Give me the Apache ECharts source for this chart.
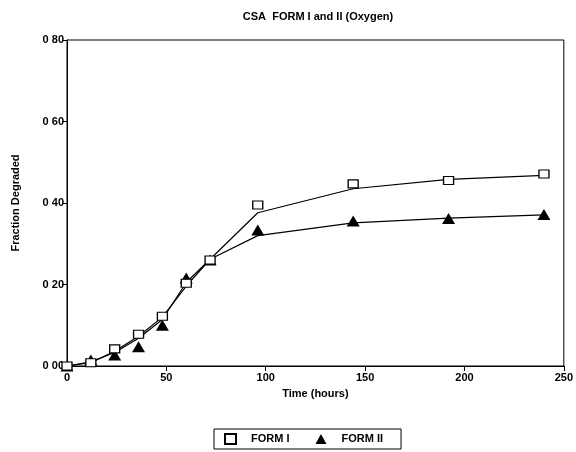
<!DOCTYPE html>
<html><head><meta charset="utf-8">
<script src="https://cdn.jsdelivr.net/npm/echarts@6/dist/echarts.min.js"></script>
<style>html,body{margin:0;padding:0;background:#fff}#c{width:576px;height:452px}</style>
</head><body><div id="c"></div>
<script>
var timeHours = [0, 12, 24, 36, 48, 60, 72, 96, 144, 192, 240];
var formI = [0.000, 0.008, 0.042, 0.078, 0.122, 0.203, 0.260, 0.395, 0.447, 0.455, 0.471];
var formII = [0.000, 0.015, 0.027, 0.047, 0.100, 0.216, 0.260, 0.334, 0.356, 0.362, 0.372];
var fitI = [0.000, 0.008, 0.036, 0.073, 0.120, 0.196, 0.262, 0.376, 0.435, 0.458, 0.468];
var fitII = [0.000, 0.010, 0.033, 0.068, 0.114, 0.205, 0.262, 0.320, 0.351, 0.363, 0.371];

function pairs(xs, ys){ return xs.map(function(x,i){ return [x, ys[i]]; }); }
var font = 'Liberation Sans, Arial, sans-serif';
var ts = {fontSize: 11, color: '#000', fontFamily: font, fontWeight: 'bold'};
var chart = echarts.init(document.getElementById('c'), null, {renderer:'canvas'});
chart.setOption({
  animation: false,
  backgroundColor: '#fff',
  textStyle: {fontFamily: font, color: '#000'},
  title: {text: 'CSA  FORM I and II (Oxygen)', left: 313, textAlign: 'center', top: 6,
    textStyle: {fontSize: 11, fontWeight: 'bold', color: '#000', fontFamily: font}},
  grid: {left: 67, right: 12, top: 40, bottom: 86, show: true, borderColor: '#000', borderWidth: 1},
  legend: {
    bottom: 3, left: 214, orient: 'horizontal',
    data: [{name: 'FORM I'}, {name: 'FORM II'}],
    borderColor: '#000', borderWidth: 1, borderRadius: 0,
    padding: [4, 18, 4, 10], itemGap: 26, itemWidth: 11, itemHeight: 10,
    textStyle: Object.assign({padding: [0, 0, 0, 10]}, ts)
  },
  xAxis: {
    type: 'value', min: 0, max: 250, interval: 50,
    name: 'Time (hours)', nameLocation: 'middle', nameGap: 22,
    nameTextStyle: ts,
    axisLine: {lineStyle: {color: '#000'}},
    axisTick: {show: true, inside: false, length: 5, lineStyle: {color: '#000'}},
    axisLabel: Object.assign({margin: 6}, ts),
    splitLine: {show: false}
  },
  yAxis: {
    type: 'value', min: 0, max: 0.8, interval: 0.2,
    name: 'Fraction Degraded', nameLocation: 'middle', nameGap: 46,
    nameTextStyle: ts,
    axisLine: {show: true, lineStyle: {color: '#000'}},
    axisTick: {show: true, length: 5, lineStyle: {color: '#000'}},
    axisLabel: Object.assign({margin: 3,
      formatter: function(v){ return v.toFixed(2).replace('.', ' '); }}, ts),
    splitLine: {show: false}
  },
  series: [
    {name: 'fitI', type: 'line', data: pairs(timeHours, fitI), symbol: 'none',
      lineStyle: {color: '#000', width: 1.2}, z: 2, silent: true},
    {name: 'fitII', type: 'line', data: pairs(timeHours, fitII), symbol: 'none',
      lineStyle: {color: '#000', width: 1.2}, z: 2, silent: true},
    {name: 'FORM I', type: 'scatter', data: pairs(timeHours, formI), symbol: 'rect', symbolSize: [10, 8],
      itemStyle: {color: '#fff', borderColor: '#000', borderWidth: 1.2, opacity: 1}, z: 4},
    {name: 'FORM II', type: 'scatter', data: pairs(timeHours, formII), symbol: 'triangle', symbolSize: [13, 11],
      itemStyle: {color: '#000', opacity: 1}, z: 3}
  ]
});
</script></body></html>
